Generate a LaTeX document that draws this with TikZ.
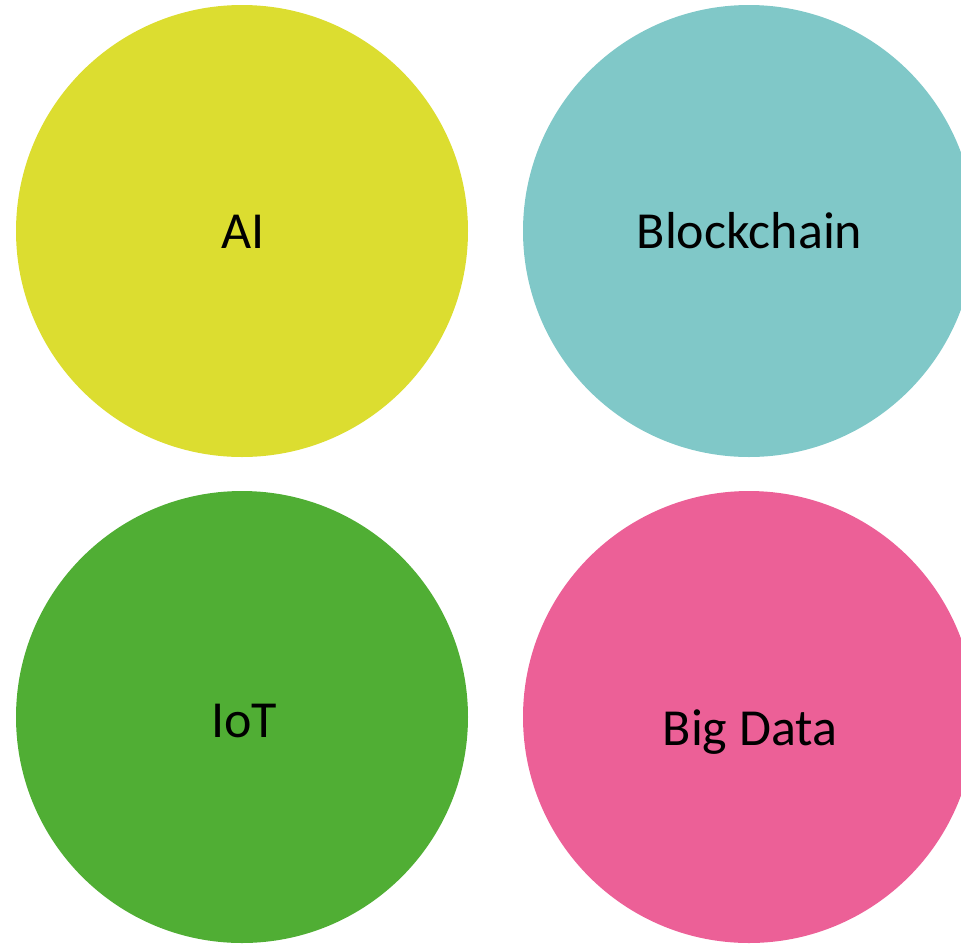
\documentclass[tikz,border=0pt]{standalone}
\usepackage{fontspec}
\setmainfont{Carlito}
\usetikzlibrary{calc}

\definecolor{aiyellow}{RGB}{220,221,48}
\definecolor{bcteal}{RGB}{128,200,200}
\definecolor{iotgreen}{RGB}{80,174,52}
\definecolor{bdpink}{RGB}{236,96,151}

\begin{document}
\begin{tikzpicture}[x=1pt, y=-1pt,
blob/.style={circle, inner sep=0pt, minimum size=452pt},
tag/.style={anchor=base, inner sep=0pt, font=\fontsize{52}{60}\selectfont}]
\useasboundingbox (0,0) rectangle (961,943);
\clip (0,0) rectangle (961,943);
\node [blob, fill=aiyellow] (ai) at (242,231){};
\node [blob, fill=bcteal] (bc) at (749,231){};
\node [blob, fill=iotgreen] (iot) at (242,717){};
\node [blob, fill=bdpink] (bd) at (749,717){};
\node [tag] (ait) at ($(ai.center)+(1,17)$){AI};
\node [tag] (bct) at ($(bc.center)+(0.5,17)$){Blockchain};
\node [tag] (iott) at ($(iot.center)+(2,20)$){IoT};
\node [tag] (bdt) at ($(bd.center)+(1,28)$){Big Data};
\end{tikzpicture}
\end{document}
